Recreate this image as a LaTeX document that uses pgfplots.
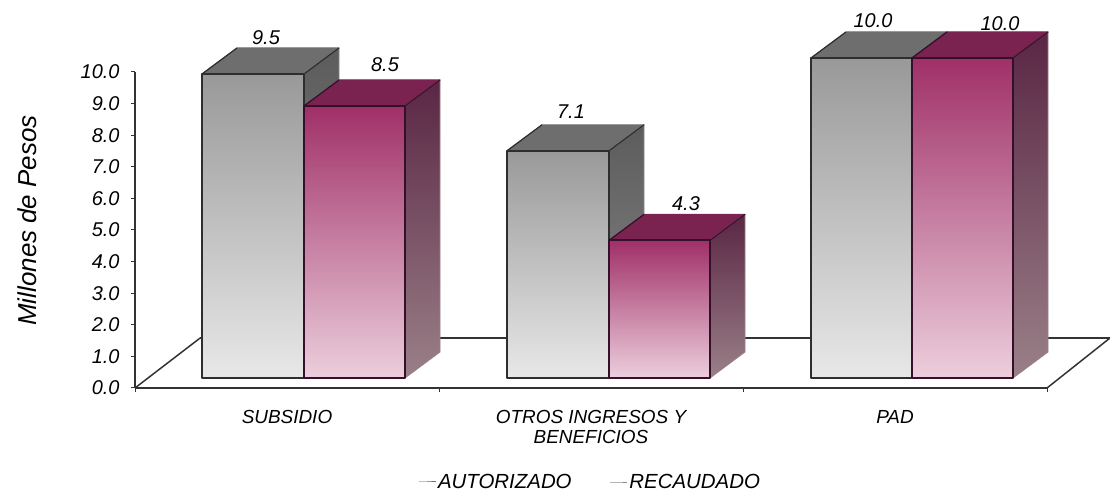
\documentclass[border=0pt]{standalone}
\usepackage{fontspec}
\setmainfont{Liberation Sans}
\usepackage{pgfplots}
\pgfplotsset{compat=1.18}
\definecolor{gT}{HTML}{999999}
\definecolor{gB}{HTML}{E8E8E8}
\definecolor{gsT}{HTML}{5C5C5C}
\definecolor{gsB}{HTML}{8A8A8A}
\definecolor{gtop}{HTML}{6E6E6E}
\definecolor{gE}{HTML}{2E2E2E}
\definecolor{mT}{HTML}{A03068}
\definecolor{mB}{HTML}{ECCEDC}
\definecolor{msT}{HTML}{5A2644}
\definecolor{msB}{HTML}{9A8088}
\definecolor{mtop}{HTML}{7A2350}
\definecolor{mE}{HTML}{35102A}
\newcommand\thrbar[9]{%
  \pgfmathsetmacro\xa{#1+35}\pgfmathsetmacro\xb{#2+35}\pgfmathsetmacro\vb{#3+0.8125}%
  \addplot[draw=#8,line width=1bp,line join=round,fill=#8] coordinates {(#1,#3) (#2,#3) (\xb,\vb) (\xa,\vb)} -- cycle;
  \addplot[draw=#7,line width=0.8bp,line join=round,top color=#6,bottom color=#7] coordinates {(#2,0) (\xb,0.8125) (\xb,\vb) (#2,#3)} -- cycle;
  \addplot[draw=#9,line width=1.2bp] coordinates {(#1,#3) (\xa,\vb)};
  \addplot[draw=#9,line width=1.2bp] coordinates {(#2,#3) (\xb,\vb)};
  \addplot[draw=#9,line width=1.8bp,line join=round,top color=#4,bottom color=#5] coordinates {(#1,0) (#2,0) (#2,#3) (#1,#3)} -- cycle;
}
\newcommand\barG[3]{\thrbar{#1}{#2}{#3}{gT}{gB}{gsT}{gsB}{gtop}{gE}}
\newcommand\barM[3]{\thrbar{#1}{#2}{#3}{mT}{mB}{msT}{msB}{mtop}{mE}}
\newcommand\vallabel[4]{\addplot[draw=none,mark=none,nodes near coords={\pgfmathprintnumber[fixed,fixed zerofill,precision=1]{\pgfplotspointmeta}},
  nodes near coords style={font=\fontsize{20}{22}\selectfont\itshape,anchor=center,xshift=#3,yshift=#4,/pgf/number format/assume math mode=true}] coordinates {(#1,#2)};}
\begin{document}
\begin{tikzpicture}[x=1bp,y=1bp]
\path[use as bounding box] (0,0) rectangle (1110,491);
\begin{axis}[
  at={(135bp,103bp)},anchor=south west,scale only axis,width=912bp,height=316bp,
  xmin=0,xmax=3,ymin=0,ymax=10,clip=false,
  axis lines=left,axis line style={-,line width=1.5bp,color=black!80},
  xtick={0,1,2,3},xticklabels={},
  extra x ticks={0.5,1.5,2.5},
  extra x tick labels={SUBSIDIO,{OTROS INGRESOS Y\\BENEFICIOS},PAD},
  extra x tick style={major tick length=0pt,tick label style={font=\fontsize{19}{20}\selectfont\itshape,align=center,yshift=-19bp}},
  ytick={0,1,2,3,4,5,6,7,8,9,10},
  yticklabel style={font=\fontsize{20}{22}\selectfont\itshape,/pgf/number format/assume math mode=true,/pgf/number format/fixed,/pgf/number format/fixed zerofill,/pgf/number format/precision=1,xshift=-8bp},
  tick style={line width=1bp,color=black!80},major tick length=4bp,tick align=outside,
  tick pos=left,
]
\addplot[line width=1.5bp,color=black!80] coordinates {(0,0) (0.214,1.58)};
\addplot[line width=1.5bp,color=black!80] coordinates {(0.214,1.58) (3.207,1.58)};
\addplot[line width=1.5bp,color=black!80] coordinates {(3,0) (3.207,1.58)};
\node[rotate=90,font=\fontsize{26}{28}\selectfont\itshape] at (axis cs:-0.355,5.3) {Millones de Pesos};
\end{axis}
\begin{axis}[
  at={(135bp,113bp)},anchor=south west,scale only axis,width=912bp,height=320bp,
  xmin=135,xmax=1047,ymin=0,ymax=10,clip=false,hide axis,
  legend columns=2,
  legend style={at={(axis cs:590,-3.25)},anchor=center,draw=none,fill=none,font=\fontsize{20.5}{23}\selectfont\itshape,/tikz/every even column/.append style={column sep=36bp},inner sep=0pt},
]
\barG{202}{304}{9.5}
\barM{304}{405}{8.5}
\barG{507}{609}{7.1}
\barM{609}{710}{4.3}
\barG{811}{912}{10.0}
\barM{912}{1013}{10.0}
\vallabel{266}{9.5}{0bp}{36bp}
\vallabel{385}{8.5}{0bp}{41bp}
\vallabel{571}{7.1}{0bp}{39bp}
\vallabel{686}{4.3}{0bp}{37bp}
\vallabel{873}{10.0}{0bp}{37bp}
\vallabel{1000}{10.0}{0bp}{34bp}
\addlegendimage{legend image code/.code={\draw[draw=gE,line width=1.5bp,top color=gT,bottom color=gB] (0bp,-5bp) rectangle (10bp,5bp);}}
\addlegendentry{AUTORIZADO}
\addlegendimage{legend image code/.code={\draw[draw=mE,line width=1.5bp,top color=mT,bottom color=mB] (0bp,-5bp) rectangle (10bp,5bp);}}
\addlegendentry{RECAUDADO}
\end{axis}
\end{tikzpicture}
\end{document}
